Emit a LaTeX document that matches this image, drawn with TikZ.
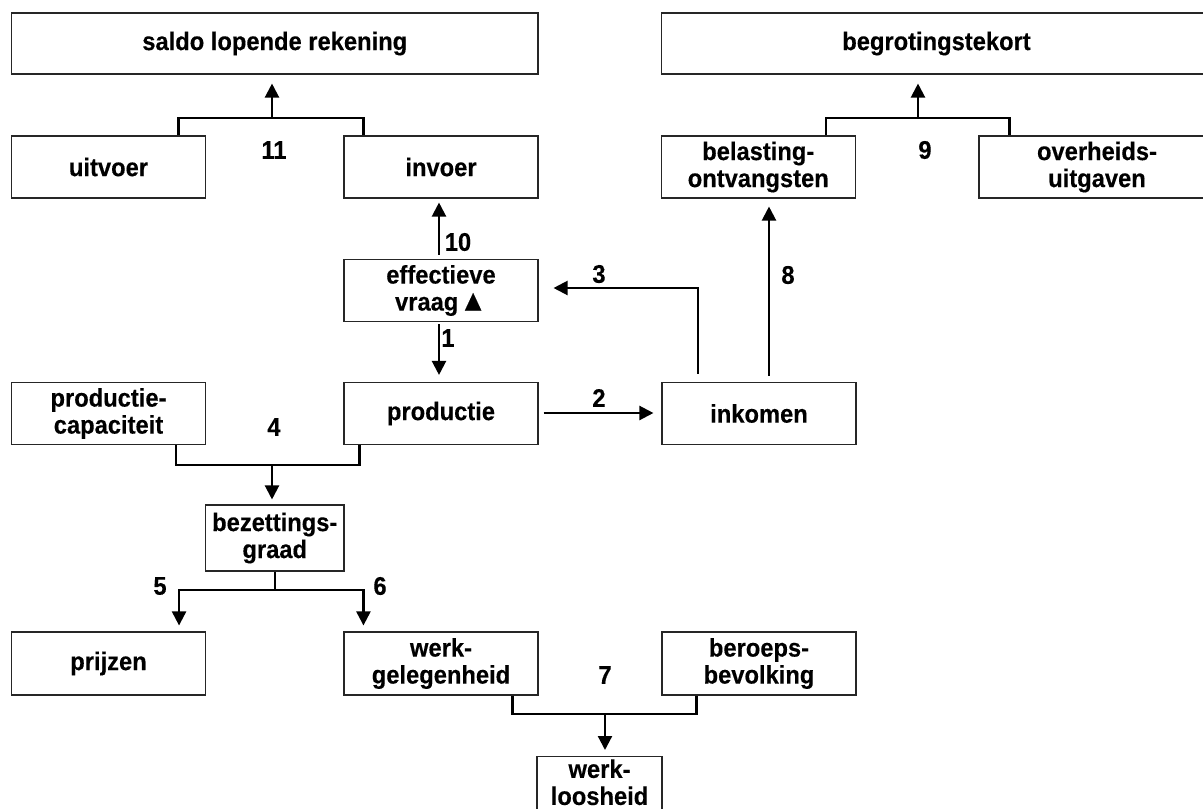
\documentclass[tikz,border=0pt]{standalone}
\usepackage{fontspec}
\setmainfont{Liberation Sans}
\newfontfamily\labfam[FakeStretch=0.93,FakeBold=0.3]{Liberation Sans}
\usetikzlibrary{arrows.meta}
\newcommand\labfont{\labfam\fontsize{25.5}{27}\selectfont\bfseries}
\begin{document}
\begin{tikzpicture}[x=1pt,y=-1pt,
  box/.style={draw=black!85, line width=1.1pt, minimum width=194pt, minimum height=62pt,
              inner sep=0pt, align=center, font=\labfont, fill=white},
  num/.style={inner sep=0pt, font=\labfont, align=center},
  conn/.style={line width=2.2pt, line join=miter},
  arr/.style={conn, -{Triangle[length=14pt,width=14pt]}}]
\useasboundingbox (0,0) rectangle (1203,809);
\clip (0,0) rectangle (1203,809);
\fill[white] (0,0) rectangle (1203,809);

% boxes
\node[box, minimum width=526.5pt, minimum height=61pt] (saldo) at (274.75,43.5) {saldo lopende rekening};
\node[box, minimum width=550pt, minimum height=61pt] (begr) at (936.5,43.5) {begrotingstekort};
\node[box] (uitvoer) at (108.5,167) {uitvoer};
\node[box] (invoer) at (441,167) {invoer};
\node[box] (bel) at (758.25,167) {belasting-\\ontvangsten};
\node[box, minimum width=236pt] (overh) at (1097,167) {overheids-\\uitgaven};
\node[box] (eff) at (441,290.5) {effectieve\\vraag\kern1pt{\fontsize{30}{27}\selectfont ▲}};
\node[box] (pcap) at (108.5,413.5) {productie-\\capaciteit};
\node[box] (prod) at (441,413.5) {productie};
\node[box] (ink) at (759,413.5) {inkomen};
\node[box, minimum width=138.5pt, minimum height=66pt] (bez) at (274.75,538) {bezettings-\\graad};
\node[box, minimum height=63pt] (prijzen) at (108.5,663.5) {prijzen};
\node[box, minimum height=63pt] (werk) at (441,663.5) {werk-\\gelegenheid};
\node[box, minimum height=63pt] (beroeps) at (759,663.5) {beroeps-\\bevolking};
\node[box, minimum width=125pt, minimum height=66pt, anchor=north] (wl) at (599.5,756) {};
\node[num] (wltext) at (599.5,782.3) {werk-\\loosheid};

% junctions
\coordinate (j11) at (272,118);
\coordinate (j9) at (918,118);
\coordinate (j4) at (272,465);
\coordinate (j56) at (274.75,590);
\coordinate (j7) at (605,714);

% 11
\draw[conn] ([xshift=-27.5pt]uitvoer.north east) |- (j11) -| ([xshift=20pt]invoer.north west);
\draw[arr, shorten >=9pt] (j11) -- (j11 |- saldo.south);
% 9
\draw[conn] ([xshift=-30pt]bel.north east) |- (j9) -| ([xshift=31pt]overh.north west);
\draw[arr, shorten >=9pt] (j9) -- (j9 |- begr.south);
% 10
\draw[arr, shorten <=4pt, shorten >=4pt] ([xshift=-2pt]eff.north) -- ([xshift=-2pt]invoer.south);
% 1
\draw[arr, shorten <=2pt, shorten >=7pt] ([xshift=-2pt]eff.south) -- ([xshift=-2pt]prod.north);
% 2
\draw[arr, shorten <=5pt, shorten >=8pt] ([yshift=0.5pt]prod.east) -- ([yshift=0.5pt]ink.west);
% 3
\draw[arr, shorten <=8pt, shorten >=15pt] ([xshift=-61pt]ink.north) |- ([yshift=2.5pt]eff.east);
% 8
\draw[arr, shorten <=6pt, shorten >=8pt] ([xshift=10pt]ink.north) -- ([xshift=10.75pt]bel.south);
% 4
\draw[conn] ([xshift=-30pt]pcap.south east) |- (j4) -| ([xshift=16pt]prod.south west);
\draw[arr, shorten >=5pt] (j4) -- (j4 |- bez.north);
% 5 / 6
\draw[conn] (bez.south) -- (j56);
\draw[arr, shorten >=6pt] (j56) -| ([xshift=-27pt]prijzen.north east);
\draw[arr, shorten >=6pt] (j56) -| ([xshift=20pt]werk.north west);
% 7
\draw[conn] ([xshift=-26pt]werk.south east) |- (j7) -| ([xshift=35pt]beroeps.south west);
\draw[arr, shorten >=6pt] (j7) -- (j7 |- wl.north);

% numbers
\node[num] (n11) at (274,150) {11};
\node[num] (n9) at (925,150) {9};
\node[num] (n10) at (458,242) {10};
\node[num] (n3) at (599,274) {3};
\node[num] (n8) at (788,275) {8};
\node[num] (n1) at (448,338) {1};
\node[num] (n2) at (599,398) {2};
\node[num] (n4) at (274,427) {4};
\node[num] (n5) at (160,586) {5};
\node[num] (n6) at (380,586) {6};
\node[num] (n7) at (605,675) {7};
\end{tikzpicture}
\end{document}
